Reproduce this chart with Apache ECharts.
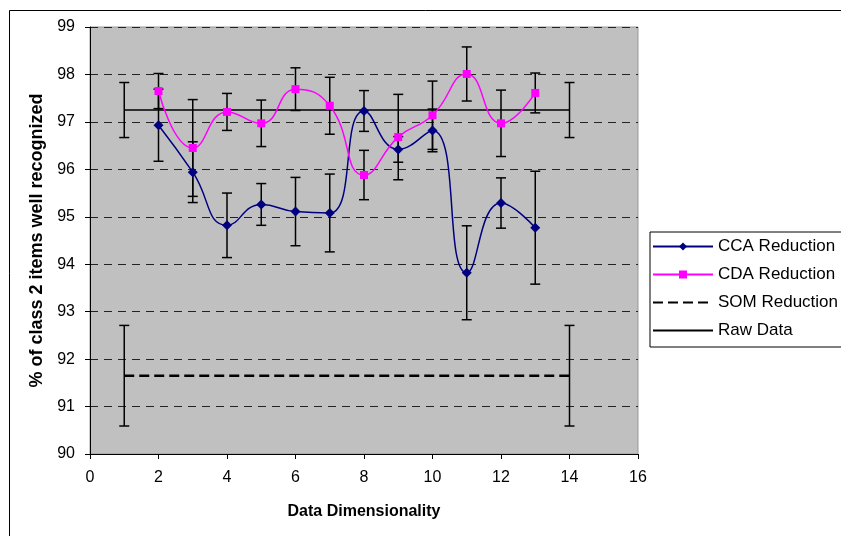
<!DOCTYPE html>
<html>
<head>
<meta charset="utf-8">
<script src="https://cdn.jsdelivr.net/npm/echarts@6/dist/echarts.min.js"></script>
<style>
  html, body { margin: 0; padding: 0; background: #fff; }
  #chart { width: 841px; height: 536px; }
</style>
</head>
<body>
<div id="chart"></div>
<script>
// values
const dims = [2, 3, 4, 5, 6, 7, 8, 9, 10, 11, 12, 13]
const ccaValues = [96.93, 95.94, 94.82, 95.26, 95.11, 95.08, 97.23, 96.42, 96.82, 93.82, 95.29, 94.77]
const ccaErrors = [0.76, 0.64, 0.68, 0.44, 0.72, 0.82, 0.43, 0.27, 0.45, 0.99, 0.53, 1.19]
const cdaValues = [97.65, 96.45, 97.21, 96.97, 97.69, 97.34, 95.88, 96.68, 97.14, 98.01, 96.97, 97.61]
const cdaErrors = [0.37, 1.02, 0.39, 0.49, 0.45, 0.60, 0.52, 0.90, 0.72, 0.57, 0.70, 0.42]
const refDims = [1, 14]
const somValues = [91.65, 91.65]
const somErrors = [1.06, 1.06]
const rawValues = [97.25, 97.25]
const rawErrors = [0.58, 0.58]

const FONT = '"Liberation Sans", Arial, sans-serif'

const pairs = (xs, ys) => xs.map((x, i) => [x, ys[i]])
const bars = (xs, ys, es) => xs.map((x, i) => [x, ys[i] - es[i], ys[i] + es[i]])

const errorData = [
  ...bars(refDims, rawValues, rawErrors),
  ...bars(refDims, somValues, somErrors),
  ...bars(dims, ccaValues, ccaErrors),
  ...bars(dims, cdaValues, cdaErrors),
]

function renderErrorBar(params, api) {
  const x = api.value(0)
  const top = api.coord([x, api.value(2)])
  const bot = api.coord([x, api.value(1)])
  const w = 5
  const style = { stroke: '#000', lineWidth: 1.5 }
  return {
    type: 'group',
    children: [
      { type: 'line', shape: { x1: top[0], y1: top[1], x2: bot[0], y2: bot[1] }, style },
      { type: 'line', shape: { x1: top[0] - w, y1: top[1], x2: top[0] + w, y2: top[1] }, style },
      { type: 'line', shape: { x1: bot[0] - w, y1: bot[1], x2: bot[0] + w, y2: bot[1] }, style },
    ],
  }
}

// plain line legend entries: hide the marker
const noMarker = { color: 'rgba(0,0,0,0)', borderWidth: 0, opacity: 0 }

const chart = echarts.init(document.getElementById('chart'))

chart.setOption({
  backgroundColor: '#fff',
  animation: false,
  textStyle: { fontFamily: FONT },
  graphic: [{
    type: 'rect',
    shape: { x: 9.5, y: 10.5, width: 900, height: 600 },
    style: { fill: 'none', stroke: '#000', lineWidth: 1 },
    silent: true,
  }],
  grid: {
    left: 90, right: 203, top: 27, bottom: 82,
    show: true,
    backgroundColor: '#c0c0c0',
    borderColor: '#999',
    borderWidth: 1,
  },
  legend: {
    orient: 'vertical',
    left: 650,
    top: 232,
    data: [
      { name: 'CCA Reduction' },
      { name: 'CDA Reduction' },
      { name: 'SOM Reduction', itemStyle: noMarker },
      { name: 'Raw Data', itemStyle: noMarker },
    ],
    itemWidth: 60,
    itemHeight: 10,
    itemGap: 11,
    itemTextGap: 6,
    padding: [6, 30, 8, 2],
    borderColor: '#000',
    borderWidth: 1,
    borderRadius: 0,
    backgroundColor: '#fff',
    textStyle: { fontFamily: FONT, fontSize: 17, color: '#000', lineHeight: 16 },
  },
  xAxis: {
    type: 'value',
    min: 0,
    max: 16,
    interval: 2,
    name: 'Data Dimensionality',
    nameLocation: 'middle',
    nameGap: 50,
    nameTextStyle: { fontFamily: FONT, fontSize: 16, fontWeight: 'bold', color: '#000' },
    axisLine: { lineStyle: { color: '#000', width: 1 } },
    axisTick: { show: true, length: 5, lineStyle: { color: '#000' } },
    axisLabel: { color: '#000', fontSize: 16, fontFamily: FONT, margin: 16 },
    splitLine: { show: false },
  },
  yAxis: {
    type: 'value',
    min: 90,
    max: 99,
    interval: 1,
    name: '% of class 2 items well recognized',
    nameLocation: 'middle',
    nameGap: 43,
    nameTextStyle: { fontFamily: FONT, fontSize: 18, fontWeight: 'bold', color: '#000' },
    axisLine: { show: true, lineStyle: { color: '#000', width: 1 } },
    axisTick: { show: true, length: 5, lineStyle: { color: '#000' } },
    axisLabel: { color: '#000', fontSize: 16, fontFamily: FONT, margin: 15 },
    splitLine: { show: true, lineStyle: { color: '#222', type: [8, 6], width: 1 } },
  },
  series: [
    {
      name: 'errors',
      type: 'custom',
      renderItem: renderErrorBar,
      encode: { x: 0, y: [1, 2] },
      data: errorData,
      z: 2,
      silent: true,
    },
    {
      name: 'Raw Data',
      type: 'line',
      data: pairs(refDims, rawValues),
      symbol: 'none',
      lineStyle: { color: '#000', width: 1.5 },
      itemStyle: { color: '#000' },
      z: 3,
    },
    {
      name: 'SOM Reduction',
      type: 'line',
      data: pairs(refDims, somValues),
      symbol: 'none',
      lineStyle: { color: '#000', width: 2.5, type: [10, 5] },
      itemStyle: { color: '#000' },
      z: 3,
    },
    {
      name: 'CCA Reduction',
      type: 'line',
      data: pairs(dims, ccaValues),
      smooth: 0.5,
      symbol: 'diamond',
      symbolSize: 10,
      lineStyle: { color: '#000080', width: 1.5 },
      itemStyle: { color: '#000080' },
      z: 4,
    },
    {
      name: 'CDA Reduction',
      type: 'line',
      data: pairs(dims, cdaValues),
      smooth: 0.5,
      symbol: 'rect',
      symbolSize: 8,
      lineStyle: { color: '#ff00ff', width: 1.5 },
      itemStyle: { color: '#ff00ff' },
      z: 4,
    },
  ],
})
</script>
</body>
</html>
